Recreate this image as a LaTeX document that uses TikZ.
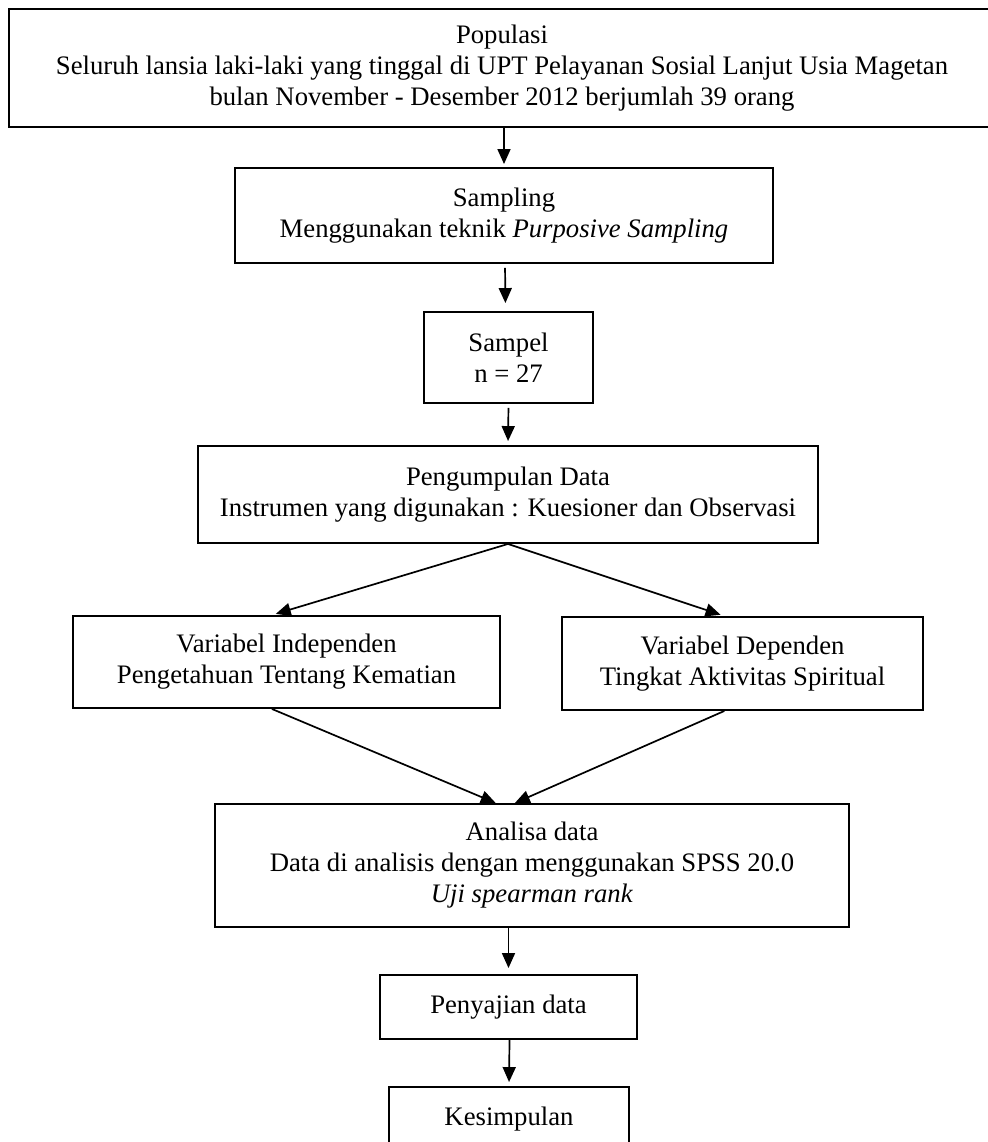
\documentclass[tikz,border=0pt]{standalone}
\usepackage{fontspec}
\setmainfont{Liberation Serif}
\usetikzlibrary{arrows.meta,calc}
\begin{document}
\begin{tikzpicture}[x=1pt,y=-1pt,
  box/.style={draw, line width=1.9pt, inner sep=0pt, align=center,
    font=\fontsize{26.7}{31}\selectfont, anchor=center},
  arr/.style={line width=1.7pt, -{Triangle[length=15pt,width=13pt]}},
]
\fill[white] (0,0) rectangle (987,1142);
\useasboundingbox (0,0) rectangle (987,1142);

\node[box, minimum width=986pt, minimum height=118pt] (pop) at (502,68)
  {Populasi\\Seluruh lansia laki-laki yang tinggal di UPT Pelayanan Sosial Lanjut Usia Magetan\\bulan November - Desember 2012 berjumlah 39 orang};
\node[box, minimum width=538pt, minimum height=95pt] (samp) at (504,215.5)
  {Sampling\\Menggunakan teknik \textit{Purposive Sampling}};
\node[box, minimum width=169pt, minimum height=91pt] (sampel) at (508.5,357.5)
  {Sampel\\n = 27};
\node[box, minimum width=620pt, minimum height=97pt] (peng) at (508,494.5)
  {Pengumpulan Data\\Instrumen yang digunakan : Kuesioner dan Observasi};
\node[box, minimum width=427pt, minimum height=92pt] (lvar) at (286.5,662)
  {Variabel Independen\\Pengetahuan Tentang Kematian};
\node[box, minimum width=361pt, minimum height=93pt] (rvar) at (742.5,663.5)
  {Variabel Dependen\\Tingkat Aktivitas Spiritual};
\node[box, minimum width=634pt, minimum height=123pt] (ana) at (532,865.5)
  {Analisa data\\Data di analisis dengan menggunakan SPSS 20.0\\\textit{Uji spearman rank}};
\node[box, minimum width=257pt, minimum height=64pt] (saji) at (508.5,1007)
  {Penyajian data};
\node[box, minimum width=240pt, minimum height=66pt] (kes) at (509,1120)
  {\raisebox{7pt}{Kesimpulan}};

\draw[arr, shorten >=3pt] (samp.north |- pop.south) -- (samp.north);
\draw[arr, shorten <=4pt, shorten >=8pt] ($(samp.south)+(1,0)$) -- ($(sampel.north)+(-3,0)$);
\draw[arr, shorten <=4pt, shorten >=4pt] (sampel.south) -- (peng.north);
\draw[arr, shorten >=4pt] (peng.south) -- ($(lvar.north west)!0.466!(lvar.north east)$);
\draw[arr, shorten >=4pt] (peng.south) -- ($(rvar.north west)!0.45!(rvar.north east)$);
\draw[arr] ($(lvar.south west)!0.466!(lvar.south east)$) -- ($(ana.north west)!0.443!(ana.north east)$);
\draw[arr] ($(rvar.south west)!0.45!(rvar.south east)$) -- ($(ana.north west)!0.473!(ana.north east)$);
\draw[arr, shorten >=6pt] (saji.north |- ana.south) -- (saji.north);
\draw[arr, shorten >=4pt] ($(saji.south)+(1,0)$) -- (kes.north);
\end{tikzpicture}
\end{document}
